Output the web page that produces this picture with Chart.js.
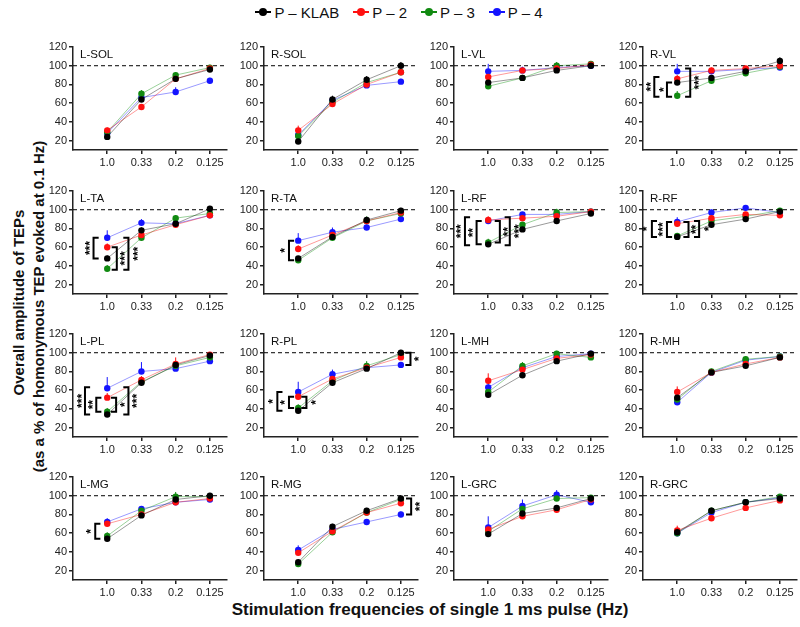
<!DOCTYPE html>
<html>
<head>
<meta charset="utf-8">
<script src="https://cdn.jsdelivr.net/npm/chart.js@4.4.0/dist/chart.umd.min.js"></script>
<style>
  body { margin: 0; background: #fff; font-family: "Liberation Sans", Arial, sans-serif; }
  #wrap { position: relative; width: 800px; height: 627px; overflow: hidden; }
  .panel { position: absolute; }
  #legend { position: absolute; top: 3px; left: 0; width: 798px; display: flex; justify-content: center; gap: 14px; font-size: 15px; color: #111; }
  .item { display: flex; align-items: center; }
  .mark { position: relative; width: 16px; height: 18px; margin-right: 3px; }
  .mark i { position: absolute; left: 0; top: 8px; width: 16px; height: 2px; }
  .mark b { position: absolute; left: 4px; top: 5px; width: 8px; height: 8px; border-radius: 50%; }
  .ytitle { position: absolute; width: 500px; text-align: center; font-weight: bold; font-size: 15px; color: #111; transform: rotate(-90deg); }
  #xtitle { position: absolute; left: 0; width: 860px; top: 600px; text-align: center; font-weight: bold; font-size: 17px; color: #111; }
</style>
</head>
<body>
<div id="wrap">
  <div id="legend"></div>
  <div class="ytitle" style="left:-232px; top:294px;">Overall amplitude of TEPs</div>
  <div class="ytitle" style="left:-212px; top:298px;">(as a % of homonymous TEP evoked at 0.1 Hz)</div>
  <div id="xtitle">Stimulation frequencies of single 1 ms pulse (Hz)</div>
</div>
<script>
// categories and tick labels
const categories = ["1.0", "0.33", "0.2", "0.125"];
const yTicks = [20, 40, 60, 80, 100, 120];
const seriesNames = ["P \u2013 KLAB", "P \u2013 2", "P \u2013 3", "P \u2013 4"];
const panelNames = ["L-SOL", "R-SOL", "L-VL", "R-VL",
                    "L-TA", "R-TA", "L-RF", "R-RF",
                    "L-PL", "R-PL", "L-MH", "R-MH",
                    "L-MG", "R-MG", "L-GRC", "R-GRC"];

// mean values, one row per panel
const klab = [[24,64,86,96],[19,64,85,100],[82,87,95,100],[82,87,94,105],
              [48,78,85,101],[48,71,89,99],[63,79,88,96],[71,84,90,98],
              [34,68,87,97],[38,68,83,100],[55,76,91,99],[52,79,86,95],
              [54,79,96,100],[29,67,84,97],[59,81,87,97],[61,84,93,97]];
const p2 =   [[31,56,86,97],[31,59,80,93],[88,95,97,101],[86,95,97,100],
              [60,73,84,94],[58,73,88,97],[89,91,93,98],[85,91,95,94],
              [52,71,88,98],[53,72,84,95],[70,82,94,98],[58,79,88,95],
              [70,80,93,97],[39,62,82,92],[64,78,85,96],[63,76,87,95]];
const p3 =   [[29,70,90,98],[25,61,82,93],[78,87,100,102],[68,84,92,99],
              [37,70,91,96],[46,70,88,96],[65,84,97,98],[72,88,93,99],
              [37,69,86,95],[41,70,86,98],[58,86,99,95],[50,80,93,96],
              [57,84,99,99],[27,61,82,96],[62,86,97,98],[60,84,93,99]];
const p4 =   [[28,66,72,84],[26,63,79,83],[94,95,98,100],[94,94,96,98],
              [70,86,85,94],[67,76,81,90],[88,95,95,98],[87,97,102,97],
              [62,80,83,91],[58,77,84,87],[63,84,96,99],[47,79,92,96],
              [72,86,93,96],[42,64,72,80],[66,89,101,93],[60,82,93,98]];

// upper error bars
const klabErr = [[2,3,2,2],[2,4,4,4],[3,2,2,2],[3,3,2,4],
                 [3,3,2,3],[2,2,3,3],[2,2,2,2],[2,2,2,2],
                 [2,3,2,2],[2,3,2,3],[2,2,2,2],[3,3,2,2],
                 [3,2,3,3],[2,3,3,3],[3,3,3,2],[2,3,3,2]];
const p2Err =   [[3,2,2,2],[5,2,2,2],[3,3,2,2],[4,3,3,2],
                 [4,3,2,2],[4,3,3,2],[4,3,2,2],[3,3,2,2],
                 [5,4,7,2],[4,3,2,2],[8,5,3,2],[6,3,3,2],
                 [3,3,3,2],[5,3,3,3],[3,3,3,2],[5,3,3,2]];
const p3Err =   [[3,4,3,3],[3,3,3,2],[2,2,4,2],[5,3,2,2],
                 [4,3,3,3],[3,3,5,3],[4,3,4,2],[3,3,2,2],
                 [4,3,3,3],[4,3,5,3],[4,4,3,2],[3,3,3,2],
                 [4,3,5,3],[3,3,3,3],[4,4,3,2],[3,3,3,2]];
const p4Err =   [[3,3,5,3],[3,3,3,3],[8,4,2,2],[8,3,2,2],
                 [8,4,3,2],[8,5,3,2],[3,2,2,2],[5,3,3,2],
                 [12,10,4,3],[11,5,3,2],[6,4,4,2],[5,3,3,2],
                 [4,3,3,3],[5,3,3,3],[12,7,5,3],[3,3,3,2]];

// significance brackets: x in category units, from y1 to y2, opening side, label and its x
const brackets = {
  3:  [{x:-0.67, y1:88, y2:67, open:1, text:"**", tx:-0.84},
       {x:-0.30, y1:82, y2:67, open:1, text:"*", tx:-0.46},
       {x:0.38, y1:97, y2:67, open:-1, text:"***", tx:0.58}],
  4:  [{x:-0.40, y1:70, y2:48, open:1, text:"***", tx:-0.58},
       {x:0.28, y1:60, y2:36, open:-1, text:"***", tx:0.46},
       {x:0.62, y1:70, y2:36, open:-1, text:"***", tx:0.82}],
  5:  [{x:-0.27, y1:67, y2:46, open:1, text:"*", tx:-0.45}],
  6:  [{x:-0.68, y1:92, y2:62, open:1, text:"***", tx:-0.85},
       {x:-0.34, y1:88, y2:63, open:1, text:"**", tx:-0.51},
       {x:0.34, y1:88, y2:65, open:-1, text:"**", tx:0.51},
       {x:0.63, y1:92, y2:62, open:-1, text:"***", tx:0.84}],
  7:  [{x:-0.74, y1:88, y2:71, open:1, text:"*", tx:-0.94},
       {x:-0.30, y1:87, y2:71, open:1, text:"***", tx:-0.48},
       {x:0.33, y1:87, y2:71, open:-1, text:"**", tx:0.49},
       {x:0.64, y1:88, y2:71, open:-1, text:"*", tx:0.85}],
  8:  [{x:-0.65, y1:63, y2:34, open:1, text:"***", tx:-0.81},
       {x:-0.32, y1:52, y2:37, open:1, text:"**", tx:-0.48},
       {x:0.26, y1:52, y2:37, open:-1, text:"*", tx:0.45},
       {x:0.62, y1:63, y2:34, open:-1, text:"***", tx:0.80}],
  9:  [{x:-0.61, y1:58, y2:38, open:1, text:"*", tx:-0.79},
       {x:-0.27, y1:53, y2:41, open:1, text:"*", tx:-0.45},
       {x:0.24, y1:53, y2:41, open:-1, text:"*", tx:0.44},
       {x:3.28, y1:100, y2:87, open:-1, text:"*", tx:3.46}],
  12: [{x:-0.35, y1:70, y2:54, open:1, text:"*", tx:-0.55}],
  13: [{x:3.30, y1:97, y2:80, open:-1, text:"**", tx:3.50}]
};

const FONT = "'Liberation Sans', Arial, sans-serif";
const dotColors = ["#000000", "#ff1010", "#118a11", "#1414ff"];
const lineColors = ["rgba(0,0,0,0.4)", "rgba(255,0,0,0.4)", "rgba(0,140,0,0.4)", "rgba(0,0,255,0.4)"];
const allMeans = [klab, p2, p3, p4];
const allErrs = [klabErr, p2Err, p3Err, p4Err];

// legend
const legend = document.getElementById("legend");
seriesNames.forEach((name, i) => {
  const it = document.createElement("div");
  it.className = "item";
  it.innerHTML = '<span class="mark"><i style="background:' + dotColors[i] + '"></i><b style="background:' + dotColors[i] + '"></b></span>' + name;
  legend.appendChild(it);
});

const colX = [72.5, 263.5, 454, 643];
const rowTop = [47.3, 190.5, 333.7, 476.9];

const panelPlugin = {
  id: "panelDeco",
  beforeDatasetsDraw(chart) {
    const ctx = chart.ctx, a = chart.chartArea, ys = chart.scales.y;
    const p = chart.$panel;
    // reference line at 100
    const y100 = ys.getPixelForValue(100);
    ctx.save();
    ctx.strokeStyle = "#000";
    ctx.lineWidth = 1;
    ctx.setLineDash([4, 3]);
    ctx.beginPath();
    ctx.moveTo(a.left, y100);
    ctx.lineTo(a.right, y100);
    ctx.stroke();
    ctx.setLineDash([]);
    // error bars
    chart.data.datasets.forEach((ds, di) => {
      const meta = chart.getDatasetMeta(di);
      ctx.strokeStyle = dotColors[di];
      ctx.lineWidth = 1;
      meta.data.forEach((pt, j) => {
        const v = allMeans[di][p][j], e = allErrs[di][p][j];
        ctx.beginPath();
        ctx.moveTo(pt.x, pt.y);
        ctx.lineTo(pt.x, ys.getPixelForValue(v + e));
        ctx.stroke();
      });
    });
    ctx.restore();
  },
  afterDatasetsDraw(chart) {
    const ctx = chart.ctx, a = chart.chartArea, xs = chart.scales.x, ys = chart.scales.y;
    const p = chart.$panel;
    ctx.save();
    ctx.fillStyle = "#111";
    ctx.font = "11.5px " + FONT;
    ctx.textAlign = "left";
    ctx.textBaseline = "middle";
    ctx.fillText(panelNames[p], a.left + 7, a.top + 8);
    (brackets[p] || []).forEach(b => {
      const x = xs.getPixelForValue(b.x);
      const arm = xs.getPixelForValue(b.x + 0.15 * b.open) - x;
      const y1 = ys.getPixelForValue(b.y1), y2 = ys.getPixelForValue(b.y2);
      ctx.strokeStyle = "#000";
      ctx.lineWidth = 2;
      ctx.beginPath();
      ctx.moveTo(x + arm, y1);
      ctx.lineTo(x, y1);
      ctx.lineTo(x, y2);
      ctx.lineTo(x + arm, y2);
      ctx.stroke();
      ctx.save();
      ctx.translate(xs.getPixelForValue(b.tx), (y1 + y2) / 2);
      ctx.rotate(-Math.PI / 2);
      ctx.font = "bold 12px " + FONT;
      ctx.textAlign = "center";
      ctx.textBaseline = "middle";
      ctx.fillStyle = "#000";
      ctx.fillText(b.text, 0, 3);
      ctx.restore();
    });
    ctx.restore();
  }
};

const wrap = document.getElementById("wrap");
panelNames.forEach((name, p) => {
  const col = p % 4, row = Math.floor(p / 4);
  const cv = document.createElement("canvas");
  cv.className = "panel";
  cv.width = 200;
  cv.height = 138;
  cv.style.left = (colX[col] - 40) + "px";
  cv.style.top = (rowTop[row] - 10) + "px";
  wrap.appendChild(cv);

  const datasets = allMeans.map((series, si) => ({
    label: seriesNames[si],
    data: series[p].map((v, j) => ({ x: j, y: v })),
    borderColor: lineColors[si],
    borderWidth: 1,
    pointRadius: 3.2,
    pointBorderWidth: 0,
    pointBackgroundColor: dotColors[si],
    tension: 0
  }));

  const axisCommon = {
    grid: { drawOnChartArea: false, drawTicks: true, tickLength: 4, color: "#222", lineWidth: 1.5 },
    border: { color: "#222", width: 1.5 }
  };

  new Chart(cv.getContext("2d"), {
    type: "line",
    data: { datasets },
    options: {
      responsive: false,
      animation: false,
      events: [],
      layout: { padding: { top: 10, right: 6, left: 0, bottom: 0 } },
      plugins: { legend: { display: false }, tooltip: { enabled: false } },
      scales: {
        x: Object.assign({
          type: "linear", min: -1, max: 3.5,
          afterBuildTicks: s => { s.ticks = categories.map((c, i) => ({ value: i })); },
          afterFit: s => { s.height = 25; },
          ticks: { callback: v => categories[v], font: { size: 11, family: FONT }, color: "#222", padding: 2, maxRotation: 0, autoSkip: false }
        }, axisCommon),
        y: Object.assign({
          min: 10, max: 120,
          afterBuildTicks: s => { s.ticks = yTicks.map(v => ({ value: v })); },
          afterFit: s => { s.width = 40; },
          ticks: { font: { size: 11, family: FONT }, color: "#222", padding: 2 }
        }, axisCommon)
      }
    },
    plugins: [{ id: "setPanel", beforeInit(c) { c.$panel = p; } }, panelPlugin]
  });
});
</script>
</body>
</html>
